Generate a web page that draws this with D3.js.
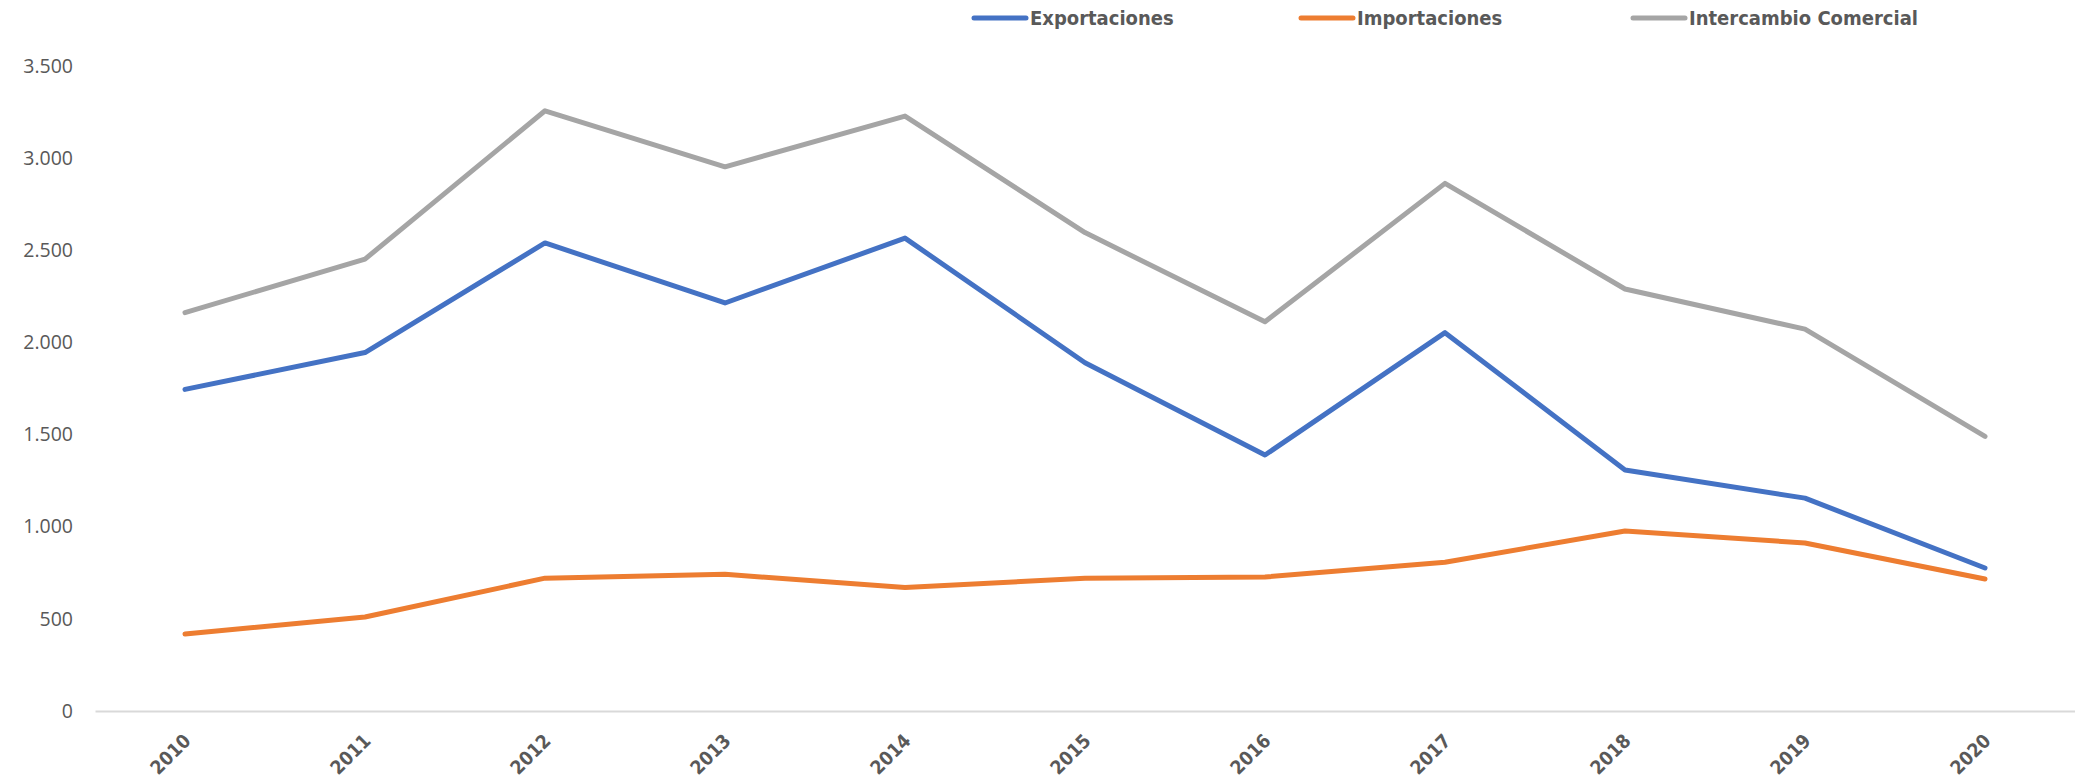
<!DOCTYPE html>
<html lang="es">

<head>
  <meta charset="utf-8">
  <title>Comercio exterior 2010-2020</title>
  <script src="https://cdn.jsdelivr.net/npm/d3@7"></script>
  <style>
    body { margin: 0; background: #fff; }
    .y-axis text { font-family: "Open Sans", sans-serif; font-size: 19.5px; fill: #595959; }
    .x-axis text { font-family: "Liberation Sans Narrow", "DejaVu Sans Condensed", sans-serif; font-weight: bold; font-size: 19px; fill: #595959; }
    .legend text { font-family: "Liberation Sans Narrow", "DejaVu Sans Condensed", sans-serif; font-weight: bold; font-size: 20px; fill: #595959; }
  </style>
</head>

<body>
  <svg id="chart"></svg>

  <script>
    // data
    var years = ["2010", "2011", "2012", "2013", "2014", "2015", "2016", "2017", "2018", "2019", "2020"];
    var exportaciones = [1745, 1945, 2540, 2214, 2566, 1890, 1389, 2053, 1308, 1155, 776];
    var importaciones = [418, 510, 721, 742, 670, 721, 727, 807, 977, 912, 716];
    var intercambio = [2162, 2452, 3257, 2953, 3228, 2596, 2112, 2863, 2290, 2072, 1490];
    var yTicks = [0, 500, 1000, 1500, 2000, 2500, 3000, 3500];

    var series = [
      { name: "Exportaciones", values: exportaciones, color: "#4472C4", lx: 972 },
      { name: "Importaciones", values: importaciones, color: "#ED7D31", lx: 1299 },
      { name: "Intercambio Comercial", values: intercambio, color: "#A5A5A5", lx: 1631 }
    ];

    var width = 2075, height = 780;
    var margin = { top: 66, right: 0, bottom: 69, left: 95 };

    var svg = d3.select("#chart")
      .attr("width", width)
      .attr("height", height);

    var x = d3.scaleBand()
      .domain(years)
      .range([margin.left, width - margin.right]);

    var y = d3.scaleLinear()
      .domain([0, 3500])
      .range([height - margin.bottom, margin.top]);

    var fmt = function (d) { return d3.format(",")(d).replace(/,/g, "."); };

    // y axis, labels only
    var yAxis = svg.append("g")
      .attr("class", "y-axis")
      .attr("transform", "translate(" + margin.left + ",0)")
      .call(d3.axisLeft(y).tickValues(yTicks).tickFormat(fmt).tickSize(0).tickPadding(22));
    yAxis.select(".domain").remove();

    // x axis line
    var xAxis = svg.append("g")
      .attr("class", "x-axis")
      .attr("transform", "translate(0," + y(0) + ")")
      .call(d3.axisBottom(x).tickSize(0).tickPadding(0));
    xAxis.select(".domain").attr("stroke", "#d9d9d9").attr("stroke-width", 2);
    xAxis.selectAll(".tick text")
      .attr("text-anchor", "end")
      .attr("dy", null)
      .attr("transform", "translate(7,31) rotate(-45)");

    // lines
    var line = d3.line()
      .x(function (d, i) { return x(years[i]) + x.bandwidth() / 2; })
      .y(function (d) { return y(d); });

    series.forEach(function (s) {
      svg.append("path")
        .datum(s.values)
        .attr("fill", "none")
        .attr("stroke", s.color)
        .attr("stroke-width", 5)
        .attr("stroke-linejoin", "round")
        .attr("stroke-linecap", "round")
        .attr("d", line);
    });

    // legend
    var legend = svg.append("g").attr("class", "legend");
    series.forEach(function (s) {
      var g = legend.append("g").attr("transform", "translate(" + s.lx + ",18)");
      g.append("line")
        .attr("x1", 2).attr("x2", 54)
        .attr("stroke", s.color)
        .attr("stroke-width", 5)
        .attr("stroke-linecap", "round");
      g.append("text")
        .attr("x", 58)
        .attr("dy", "0.35em")
        .text(s.name);
    });
  </script>
</body>

</html>
